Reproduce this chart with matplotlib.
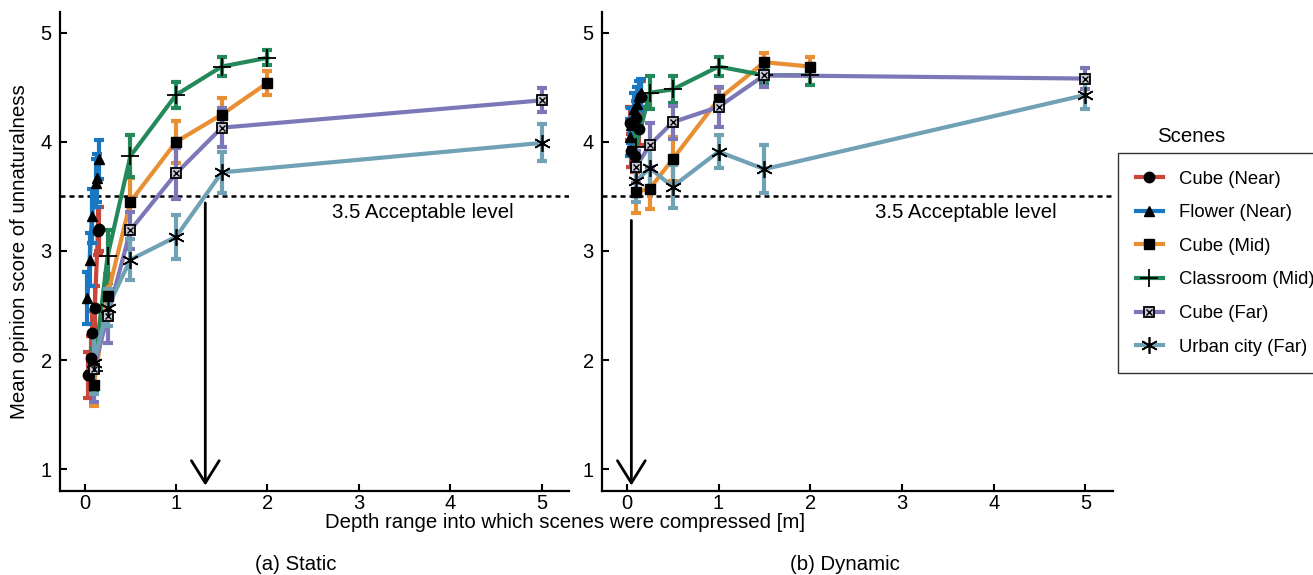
import numpy as np
import matplotlib
matplotlib.use("Agg")
import matplotlib.pyplot as plt
from matplotlib.lines import Line2D
from matplotlib.legend_handler import HandlerTuple

plt.rcParams["font.family"] = ["Liberation Sans", "DejaVu Sans"]
plt.rcParams["font.size"] = 14.7

scenes = ["Cube (Near)", "Flower (Near)", "Cube (Mid)", "Classroom (Mid)", "Cube (Far)", "Urban city (Far)"]
colors = ["#C8473A", "#1A78C2", "#E88F34", "#23885A", "#7C78B8", "#70A1B4"]

# static condition
staticX = {
	"Cube (Near)": [0.036, 0.066, 0.084, 0.11, 0.146, 0.16],
	"Flower (Near)": [0.03, 0.055, 0.08, 0.12, 0.13, 0.16],
	"Cube (Mid)": [0.1, 0.25, 0.5, 1, 1.5, 2],
	"Classroom (Mid)": [0.1, 0.25, 0.5, 1, 1.5, 2],
	"Cube (Far)": [0.1, 0.25, 0.5, 1, 1.5, 5],
	"Urban city (Far)": [0.1, 0.25, 0.5, 1, 1.5, 5],
}
staticY = {
	"Cube (Near)": [1.86, 2.02, 2.25, 2.48, 3.18, 3.2],
	"Flower (Near)": [2.57, 2.92, 3.32, 3.62, 3.67, 3.84],
	"Cube (Mid)": [1.77, 2.59, 3.45, 4.0, 4.25, 4.54],
	"Classroom (Mid)": [1.9, 2.95, 3.87, 4.43, 4.69, 4.77],
	"Cube (Far)": [1.92, 2.4, 3.19, 3.71, 4.13, 4.38],
	"Urban city (Far)": [1.97, 2.48, 2.92, 3.13, 3.72, 3.99],
}
staticErr = {
	"Cube (Near)": [0.21, 0.2, 0.2, 0.2, 0.22, 0.2],
	"Flower (Near)": [0.24, 0.24, 0.25, 0.22, 0.22, 0.18],
	"Cube (Mid)": [0.19, 0.2, 0.22, 0.19, 0.15, 0.11],
	"Classroom (Mid)": [0.2, 0.24, 0.19, 0.12, 0.09, 0.07],
	"Cube (Far)": [0.3, 0.24, 0.17, 0.23, 0.18, 0.11],
	"Urban city (Far)": [0.28, 0.17, 0.19, 0.2, 0.19, 0.17],
}

# dynamic condition
dynamicX = {
	"Cube (Near)": [0.04, 0.05, 0.09, 0.1, 0.13, 0.15],
	"Flower (Near)": [0.03, 0.05, 0.08, 0.11, 0.13, 0.16],
	"Cube (Mid)": [0.1, 0.25, 0.5, 1, 1.5, 2],
	"Classroom (Mid)": [0.1, 0.25, 0.5, 1, 1.5, 2],
	"Cube (Far)": [0.1, 0.25, 0.5, 1, 1.5, 5],
	"Urban city (Far)": [0.1, 0.25, 0.5, 1, 1.5, 5],
}
dynamicY = {
	"Cube (Near)": [4.17, 3.92, 3.87, 4.22, 4.12, 4.41],
	"Flower (Near)": [4.04, 4.15, 4.3, 4.35, 4.42, 4.45],
	"Cube (Mid)": [3.54, 3.57, 3.84, 4.39, 4.73, 4.69],
	"Classroom (Mid)": [3.95, 4.45, 4.48, 4.69, 4.61, 4.61],
	"Cube (Far)": [3.77, 3.97, 4.18, 4.32, 4.61, 4.58],
	"Urban city (Far)": [3.64, 3.76, 3.59, 3.91, 3.75, 4.43],
}
dynamicErr = {
	"Cube (Near)": [0.15, 0.15, 0.15, 0.15, 0.15, 0.15],
	"Flower (Near)": [0.17, 0.16, 0.15, 0.15, 0.14, 0.13],
	"Cube (Mid)": [0.19, 0.19, 0.2, 0.1, 0.08, 0.09],
	"Classroom (Mid)": [0.15, 0.15, 0.12, 0.09, 0.07, 0.09],
	"Cube (Far)": [0.15, 0.2, 0.15, 0.18, 0.11, 0.1],
	"Urban city (Far)": [0.19, 0.18, 0.2, 0.15, 0.22, 0.13],
}

markers = ["o", "^", "s", "+", "s", (6, 2, 0)]
xTicks = [0, 1, 2, 3, 4, 5]
yTicks = [1, 2, 3, 4, 5]
acceptable = 3.5
arrowX = {"static": 1.32, "dynamic": 0.05}
arrowTop = {"static": 3.44, "dynamic": 3.28}


def markerLines(i):
	# black marker(s) drawn on top of the coloured line
	scene = scenes[i]
	if scene == "Cube (Far)":
		return [dict(marker="s", ms=7.5, mfc="#c9c9d8", mec="black", mew=1.3),
				dict(marker="x", ms=5, mfc="none", mec="black", mew=1.0)]
	if scene == "Classroom (Mid)":
		return [dict(marker="+", ms=13, mec="black", mew=1.3)]
	if scene == "Urban city (Far)":
		return [dict(marker=markers[i], ms=12, mec="black", mew=1.2)]
	return [dict(marker=markers[i], ms=7.5, mfc="black", mec="black")]


def drawPanel(ax, xs, ys, errs, panel):
	for i, scene in enumerate(scenes):
		c = colors[i]
		ax.errorbar(xs[scene], ys[scene], yerr=errs[scene], color=c, lw=3, elinewidth=3,
					capsize=3.5, capthick=3, zorder=2 + i * 0.1)
		for kw in markerLines(i):
			ax.plot(xs[scene], ys[scene], ls="none", zorder=5, **kw)

	ax.axhline(acceptable, color="black", lw=1.8, ls=(0, (2, 1.6)), zorder=1)
	ax.text(3.7, 3.35, "3.5 Acceptable level", ha="center", va="center")
	ax.annotate("", xy=(arrowX[panel], 0.85), xytext=(arrowX[panel], arrowTop[panel]),
				arrowprops=dict(arrowstyle="->,head_length=0.8,head_width=0.5", lw=2, color="black",
								mutation_scale=20, shrinkA=0, shrinkB=0), zorder=7)

	ax.set_xlim(-0.27, 5.3)
	ax.set_ylim(0.8, 5.19)
	ax.set_xticks(xTicks)
	ax.set_yticks(yTicks)
	ax.spines["top"].set_visible(False)
	ax.spines["right"].set_visible(False)
	ax.spines["left"].set_linewidth(1.6)
	ax.spines["bottom"].set_linewidth(1.6)
	ax.tick_params(direction="in", length=5, width=1.5, labelsize=14.5)
	ax.tick_params(axis="x", pad=2)
	ax.tick_params(axis="y", pad=6)


fig = plt.figure(figsize=(13.13, 5.75), dpi=100)
axS = fig.add_axes([60 / 1313, 84 / 575, 509 / 1313, 479 / 575])
axD = fig.add_axes([602 / 1313, 84 / 575, 511 / 1313, 479 / 575])

drawPanel(axS, staticX, staticY, staticErr, "static")
drawPanel(axD, dynamicX, dynamicY, dynamicErr, "dynamic")

axS.set_ylabel("Mean opinion score of unnaturalness", labelpad=8)
fig.text(565 / 1313, 1 - 523 / 575, "Depth range into which scenes were compressed [m]", ha="center", va="center")
fig.text(296 / 1313, 1 - 565 / 575, "(a) Static", ha="center", va="center")
fig.text(845 / 1313, 1 - 565 / 575, "(b) Dynamic", ha="center", va="center")

# legend proxies
handles = []
for i, scene in enumerate(scenes):
	parts = [Line2D([], [], color=colors[i], lw=3)]
	for kw in markerLines(i):
		parts.append(Line2D([], [], ls="none", **kw))
	handles.append(tuple(parts))

leg = fig.legend(handles, scenes, loc="upper left", bbox_to_anchor=(1118 / 1313, 1 - 153 / 575),
				 handler_map={tuple: HandlerTuple(ndivide=1, pad=0)},
				 frameon=True, fancybox=False, edgecolor="black", fontsize=13.3,
				 handlelength=1.5, handletextpad=0.85, labelspacing=0.9, borderpad=0.95,
				 borderaxespad=0)
leg.get_frame().set_linewidth(1.0)
fig.text(1191 / 1313, 1 - 137 / 575, "Scenes", ha="center", va="center")

plt.savefig("out.png", dpi=100)
